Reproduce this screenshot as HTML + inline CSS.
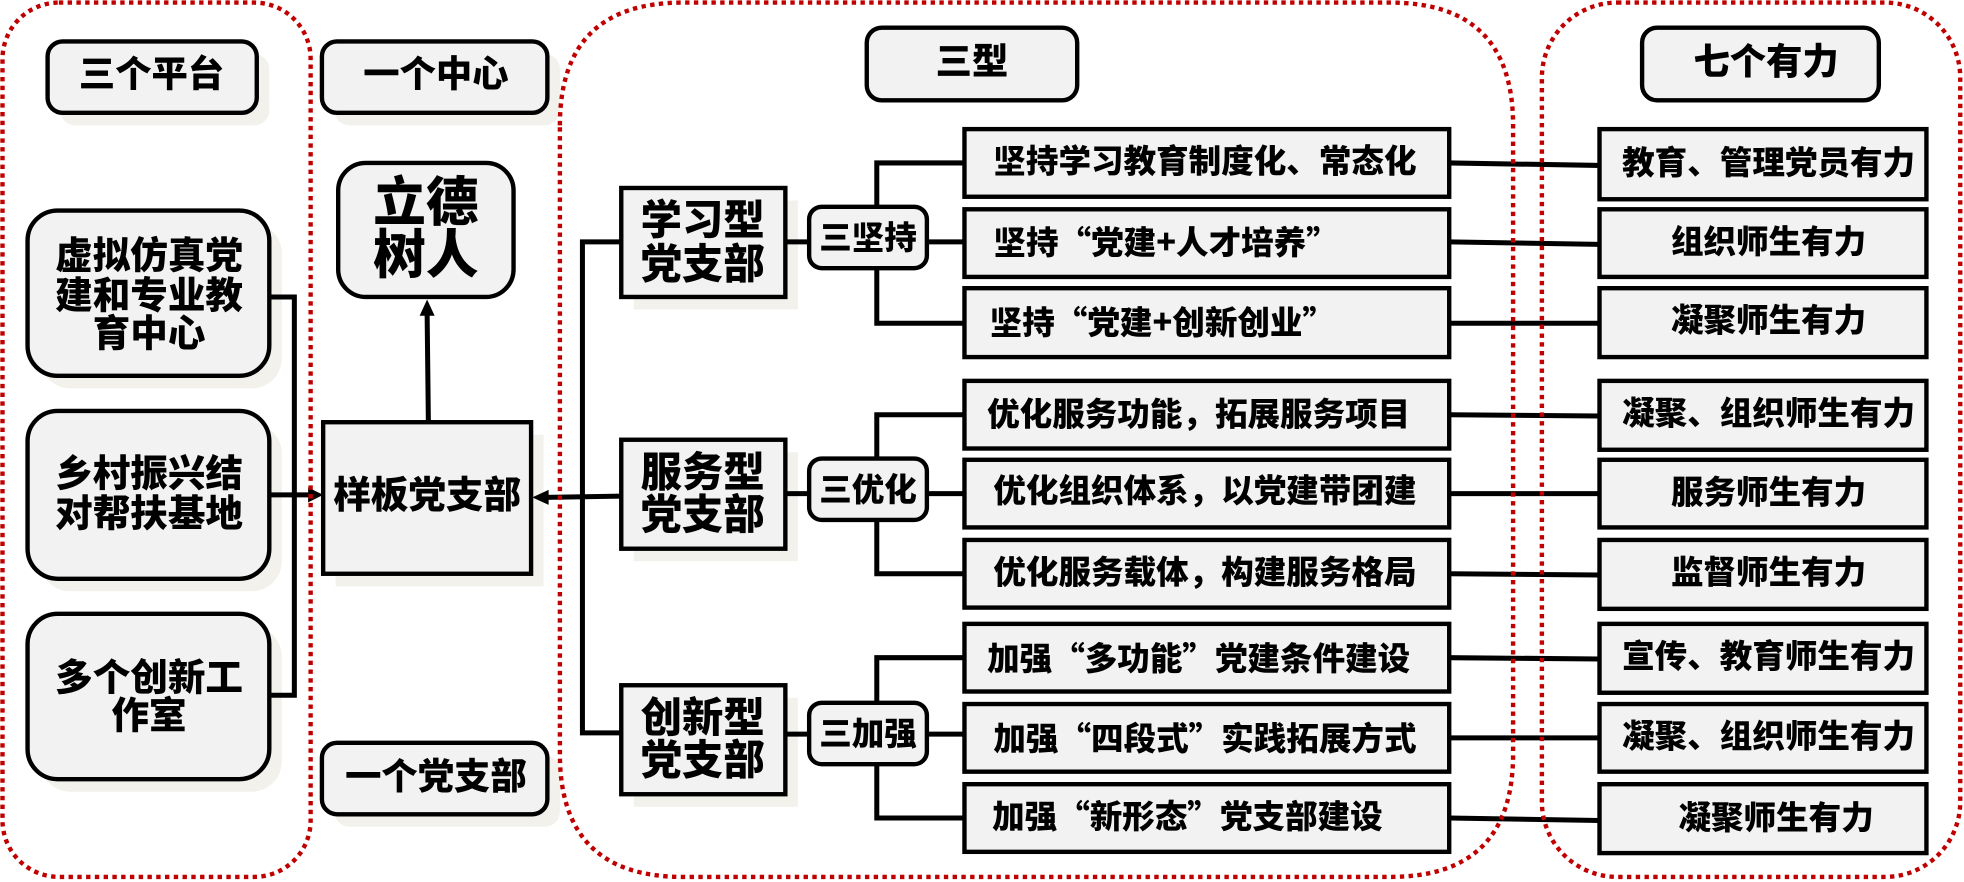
<!DOCTYPE html>
<html><head><meta charset="utf-8"><style>
html,body{margin:0;padding:0;background:#fff;width:1964px;height:882px;overflow:hidden}
svg{display:block}
text{font-family:"Liberation Sans","Noto Sans CJK SC",sans-serif;font-weight:900;fill:#000;text-anchor:middle;dominant-baseline:central}
text.q{font-family:"Noto Sans CJK SC","Liberation Sans",sans-serif}
</style></head><body>
<svg width="1964" height="882" viewBox="0 0 1568 704" xmlns="http://www.w3.org/2000/svg">
<g fill="#f2f1ec">
<rect x="48" y="43" width="167" height="57" rx="12"/>
<rect x="267" y="43" width="180" height="57" rx="12"/>
<rect x="32" y="178" width="193" height="132" rx="24"/>
<rect x="32" y="338" width="193" height="134" rx="24"/>
<rect x="32" y="500" width="193" height="132" rx="24"/>
<rect x="267" y="603" width="180" height="57" rx="12"/>
<rect x="268" y="347" width="166" height="121"/>
<rect x="506" y="160" width="131" height="87"/>
<rect x="506" y="361" width="131" height="87"/>
<rect x="506" y="557" width="131" height="87"/>
</g>
<g stroke="#000" stroke-width="4" fill="none">
<polyline points="215,237 235,237 235,555 215,555"/>
<line x1="215" y1="395" x2="248" y2="395"/>
<line x1="342" y1="337" x2="341" y2="250"/>
<polyline points="496,193 465,193 465,585 496,585"/>
<line x1="496" y1="396" x2="436" y2="397"/>
<line x1="627" y1="193" x2="646" y2="193"/><line x1="740" y1="193" x2="770" y2="193"/>
<line x1="627" y1="394" x2="646" y2="394"/><line x1="740" y1="394" x2="770" y2="394"/>
<line x1="627" y1="586" x2="646" y2="586"/><line x1="740" y1="586" x2="770" y2="586"/>
<polyline points="770,130 700,130 700,258 770,258"/>
<polyline points="770,331 700,331 700,458 770,458"/>
<polyline points="770,525 700,525 700,653 770,653"/>
<line x1="1157" y1="130" x2="1277" y2="132"/>
<line x1="1157" y1="193" x2="1277" y2="195"/>
<line x1="1157" y1="258" x2="1277" y2="258"/>
<line x1="1157" y1="331" x2="1277" y2="332"/>
<line x1="1157" y1="394" x2="1277" y2="394"/>
<line x1="1157" y1="458" x2="1277" y2="459"/>
<line x1="1157" y1="525" x2="1277" y2="526"/>
<line x1="1157" y1="589" x2="1277" y2="589"/>
<line x1="1157" y1="653" x2="1277" y2="655"/>
</g>
<polygon points="258,395 246,389 246,401" fill="#000"/>
<polygon points="341,239 335,252 347,252" fill="#000"/>
<polygon points="425,397 438,391 438,403" fill="#000"/>
<g stroke="#000" stroke-width="3.5" fill="#f2f2f2">
<rect x="38" y="33" width="167" height="57" rx="12"/>
<rect x="257" y="33" width="180" height="57" rx="12"/>
<rect x="270" y="130" width="140" height="107" rx="22"/>
<rect x="22" y="168" width="193" height="132" rx="24"/>
<rect x="22" y="328" width="193" height="134" rx="24"/>
<rect x="22" y="490" width="193" height="132" rx="24"/>
<rect x="257" y="593" width="180" height="57" rx="12"/>
<rect x="258" y="337" width="166" height="121"/>
<rect x="496" y="150" width="131" height="87"/>
<rect x="496" y="351" width="131" height="87"/>
<rect x="496" y="547" width="131" height="87"/>
<rect x="646" y="165" width="94" height="49" rx="10"/>
<rect x="646" y="366" width="94" height="49" rx="10"/>
<rect x="646" y="561" width="94" height="49" rx="10"/>
<rect x="692" y="22" width="168" height="58" rx="12"/>
<rect x="1311" y="22" width="189" height="58" rx="12"/>
<rect x="770" y="103" width="387" height="54"/>
<rect x="770" y="167" width="387" height="54"/>
<rect x="770" y="230" width="387" height="55"/>
<rect x="770" y="304" width="387" height="54"/>
<rect x="770" y="367" width="387" height="54"/>
<rect x="770" y="431" width="387" height="54"/>
<rect x="770" y="498" width="387" height="54"/>
<rect x="770" y="562" width="387" height="54"/>
<rect x="770" y="626" width="387" height="54"/>
<rect x="1277" y="103" width="261" height="56"/>
<rect x="1277" y="167" width="261" height="54"/>
<rect x="1277" y="230" width="261" height="55"/>
<rect x="1277" y="304" width="261" height="55"/>
<rect x="1277" y="367" width="261" height="54"/>
<rect x="1277" y="431" width="261" height="55"/>
<rect x="1277" y="498" width="261" height="55"/>
<rect x="1277" y="562" width="261" height="54"/>
<rect x="1277" y="626" width="261" height="55"/>
</g>
<g stroke="#c00000" stroke-width="3.5" fill="none" stroke-dasharray="3.5 3.5">
<rect x="2" y="2" width="246" height="698" rx="45"/>
<path d="M447,100 Q447,2 545,2 L1110,2 Q1208,2 1208,100 L1208,602 Q1208,700 1110,700 L545,700 Q447,700 447,602 Z"/>
<rect x="1231" y="2" width="334" height="698" rx="60"/>
</g>
<g font-size="29">
<text x="121" y="59">三个平台</text>
<text x="348" y="59">一个中心</text>
<text x="348" y="620">一个党支部</text>
<text x="776" y="49">三型</text>
<text x="1410" y="49">七个有力</text>
</g>
<g font-size="42"><text x="340" y="162">立德</text><text x="340" y="204">树人</text></g>
<g font-size="30">
<text x="119" y="204">虚拟仿真党</text><text x="119" y="236">建和专业教</text><text x="119" y="266">育中心</text>
<text x="119" y="378">乡村振兴结</text><text x="119" y="410">对帮扶基地</text>
<text x="119" y="541">多个创新工</text><text x="119" y="571">作室</text>
<text x="341" y="395">样板党支部</text>
</g>
<g font-size="33">
<text x="561" y="176">学习型</text><text x="561" y="211">党支部</text>
<text x="561" y="377">服务型</text><text x="561" y="411">党支部</text>
<text x="561" y="573">创新型</text><text x="561" y="607">党支部</text>
</g>
<g font-size="26">
<text x="693" y="190">三坚持</text>
<text x="693" y="391">三优化</text>
<text x="693" y="586">三加强</text>
</g>
<g font-size="26">
<text x="962" y="129">坚持学习教育制度化、常态化</text>
<text class="q" x="931" y="192">坚持“党建+人才培养”</text>
<text class="q" x="928" y="256">坚持“党建+创新创业”</text>
<text x="957" y="331">优化服务功能，拓展服务项目</text>
<text x="962" y="392">优化组织体系，以党建带团建</text>
<text x="962" y="457">优化服务载体，构建服务格局</text>
<text class="q" x="957" y="524">加强“多功能”党建条件建设</text>
<text class="q" x="962" y="588">加强“四段式”实践拓展方式</text>
<text class="q" x="948" y="650">加强“新形态”党支部建设</text>
<text x="1412" y="130">教育、管理党员有力</text>
<text x="1412" y="193">组织师生有力</text>
<text x="1412" y="256">凝聚师生有力</text>
<text x="1412" y="330">凝聚、组织师生有力</text>
<text x="1412" y="393">服务师生有力</text>
<text x="1412" y="457">监督师生有力</text>
<text x="1412" y="524">宣传、教育师生有力</text>
<text x="1412" y="588">凝聚、组织师生有力</text>
<text x="1418" y="653">凝聚师生有力</text>
</g>
</svg>
</body></html>
